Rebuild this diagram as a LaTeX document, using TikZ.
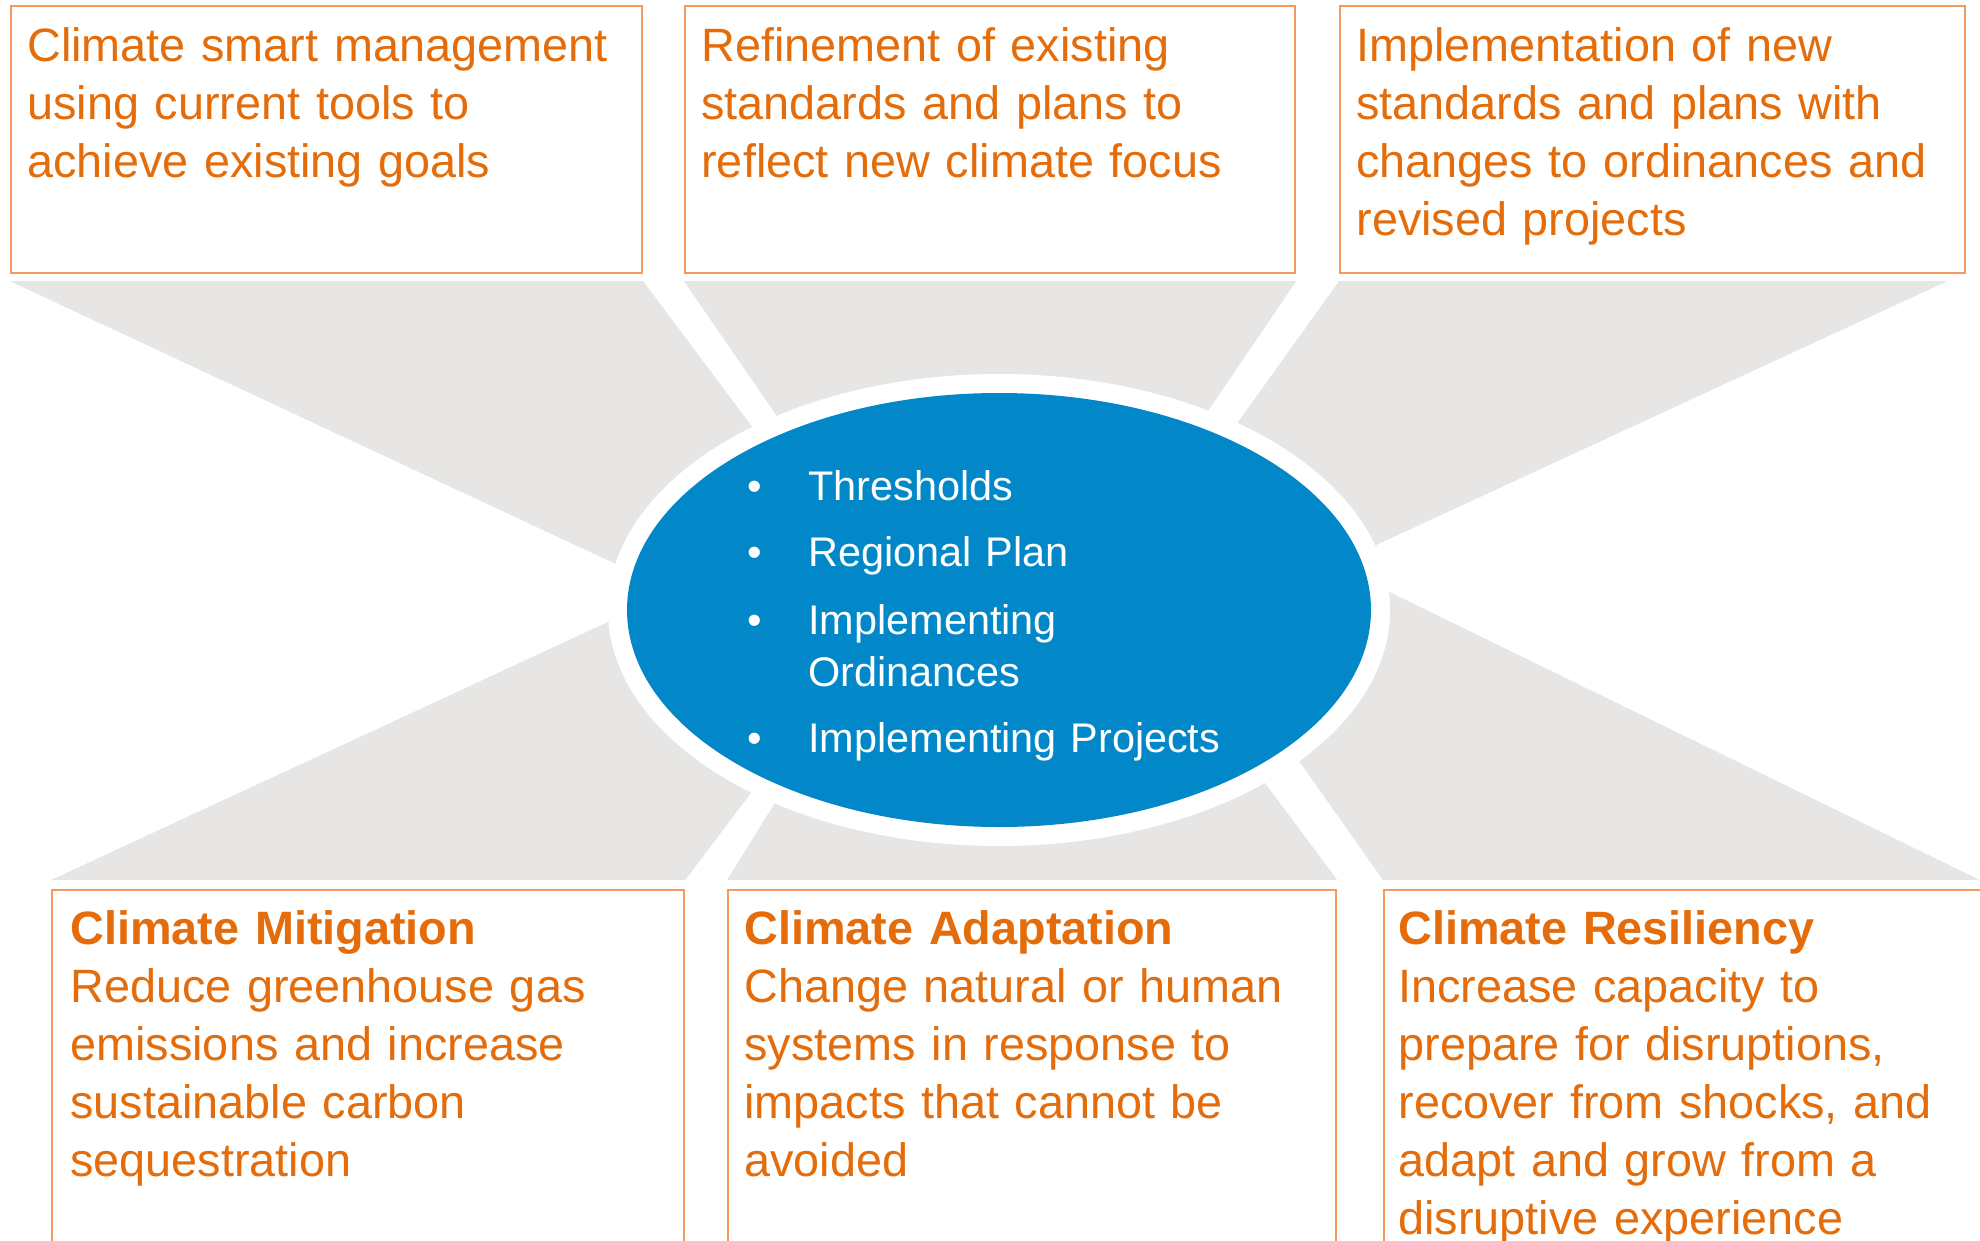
\documentclass[tikz,border=0pt]{standalone}
\usepackage{fontspec}
\setmainfont{Liberation Sans}
\usetikzlibrary{shapes.geometric}
\definecolor{txtorange}{HTML}{E46C0A}
\definecolor{boxorange}{HTML}{F59A5E}
\definecolor{fangrey}{HTML}{E7E6E4}
\definecolor{coreblue}{HTML}{0288C8}
\begin{document}
\begin{tikzpicture}[x=0.5pt,y=-0.5pt,
  card/.style={draw=boxorange, line width=1.1pt, fill=white, anchor=north west, inner sep=0pt},
  body/.style={text=txtorange, anchor=base west, inner sep=0pt, align=left, text width=#1, font=\fontsize{23.4}{29}\selectfont},
  fan/.style={fill=fangrey},
  listtxt/.style={text=white, anchor=base west, inner sep=0pt, align=left, text width=300pt, font=\fontsize{20.7}{26}\selectfont}
]
\useasboundingbox (0,0) rectangle (1980,1241);
\clip (0,0) rectangle (1980,1241);

% boxes
\node[card, minimum width=315.5pt, minimum height=133.5pt] (t1) at (10,5) {};
\node[card, minimum width=305pt, minimum height=133.5pt] (t2) at (684,5) {};
\node[card, minimum width=312.5pt, minimum height=133.5pt] (t3) at (1339,5) {};
\node[card, minimum width=316pt, minimum height=205pt] (b1) at (51,889) {};
\node[card, minimum width=304pt, minimum height=205pt] (b2) at (727,889) {};
\node[card, minimum width=350pt, minimum height=205pt] (b3) at (1383,889) {};

% fans
\fill[fan] ([yshift=-3.5pt]t1.south west) -- ([yshift=-3.5pt]t1.south east) -- (777,460) -- (680,594) -- cycle;
\fill[fan] ([yshift=-3.5pt]t2.south west) -- ([yshift=-3.5pt]t2.south east) -- (1168,470) -- (814,470) -- cycle;
\fill[fan] ([yshift=-3.5pt]t3.south west) -- ([xshift=-9.5pt,yshift=-3.5pt]t3.south east) -- (1320,571) -- (1218,450) -- cycle;
\fill[fan] ([yshift=4.5pt]b1.north west) -- ([yshift=4.5pt]b1.north east) -- (791,740) -- (690,584) -- cycle;
\fill[fan] ([yshift=4.5pt]b2.north west) -- ([yshift=4.5pt]b2.north east) -- (1233,740) -- (814,740) -- cycle;
\fill[fan] ([yshift=4.5pt]b3.north west) -- (1270,720) -- (1330,563) -- (1990,885) -- (1990,880) -- cycle;

% central ellipse
\node[ellipse, fill=white, minimum width=391pt, minimum height=236pt, inner sep=0pt] (ring) at (999,610) {};
\node[ellipse, fill=coreblue, minimum width=372pt, minimum height=217pt, inner sep=0pt] (core) at (999,610) {};

\node[listtxt] (items) at (747,500) {\makebox[30.5pt][l]{\textbullet}Thresholds\\[7pt]
\makebox[30.5pt][l]{\textbullet}Regional Plan\\[8pt]
\makebox[30.5pt][l]{\textbullet}Implementing\\
\hspace*{30.5pt}Ordinances\\[7pt]
\makebox[30.5pt][l]{\textbullet}Implementing Projects};

% texts
\node[body=305pt] (t1txt) at (27,62) {Climate smart management\\ using current tools to\\ achieve existing goals};
\node[body=300pt] (t2txt) at (701,62) {Refinement of existing\\ standards and plans to\\ reflect new climate focus};
\node[body=305pt] (t3txt) at (1356,62) {Implementation of new\\ standards and plans with\\ changes to ordinances and\\ revised projects};
\node[body=305pt] (b1txt) at (70,944) {\textbf{Climate Mitigation}\\ Reduce greenhouse gas\\ emissions and increase\\ sustainable carbon\\ sequestration};
\node[body=300pt] (b2txt) at (744,944) {\textbf{Climate Adaptation}\\ Change natural or human\\ systems in response to\\ impacts that cannot be\\ avoided};
\node[body=300pt] (b3txt) at (1398,944) {\textbf{Climate Resiliency}\\ Increase capacity to\\ prepare for disruptions,\\ recover from shocks, and\\ adapt and grow from a\\ disruptive experience};
\end{tikzpicture}
\end{document}
